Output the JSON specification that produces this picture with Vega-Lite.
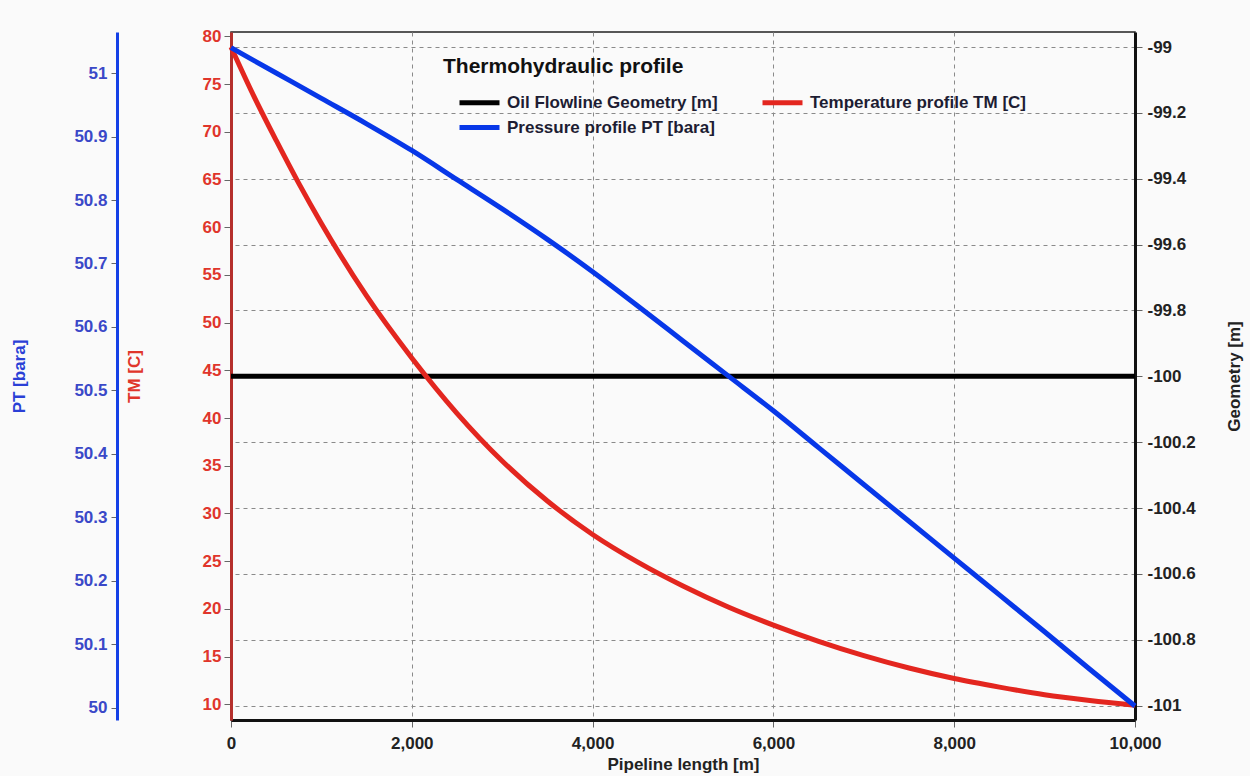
{
  "$schema": "https://vega.github.io/schema/vega-lite/v6.json",
  "autosize": "none",
  "padding": {"left": 231, "top": 32, "right": 115, "bottom": 56},
  "width": 904,
  "height": 688,
  "background": "#fafafa",
  "config": {
    "view": {"stroke": "#222", "strokeWidth": 1.5, "fill": "#fafafa"},
    "font": "Liberation Sans",
    "axis": {
      "labelFont": "Liberation Sans", "labelFontWeight": "bold", "labelFontSize": 17,
      "titleFont": "Liberation Sans", "titleFontWeight": "bold", "titleFontSize": 17,
      "tickColor": "#666", "gridColor": "#8a8a8a", "gridDash": [4, 4], "gridWidth": 1, "gridOpacity": 1,
      "labelFlush": false, "labelOverlap": false
    }
  },
  "datasets": {
    "geom": [
      {"d": 0, "v": -100},
      {"d": 10000, "v": -100}
    ],
    "temp": [
      {"d": 0, "v": 78.9}, {"d": 250, "v": 73.8}, {"d": 500, "v": 69.1}, {"d": 750, "v": 64.6},
      {"d": 1000, "v": 60.4}, {"d": 1500, "v": 52.8}, {"d": 2000, "v": 46.3}, {"d": 2500, "v": 40.5},
      {"d": 3000, "v": 35.5}, {"d": 3500, "v": 31.3}, {"d": 4000, "v": 27.8}, {"d": 4500, "v": 24.9},
      {"d": 5000, "v": 22.4}, {"d": 5500, "v": 20.2}, {"d": 6000, "v": 18.3}, {"d": 6500, "v": 16.6},
      {"d": 7000, "v": 15.1}, {"d": 7500, "v": 13.8}, {"d": 8000, "v": 12.7}, {"d": 8500, "v": 11.8},
      {"d": 9000, "v": 11.0}, {"d": 9500, "v": 10.4}, {"d": 10000, "v": 9.9}
    ],
    "pres": [
      {"d": 0, "v": 51.04}, {"d": 500, "v": 51.0}, {"d": 1000, "v": 50.96}, {"d": 1500, "v": 50.92},
      {"d": 2000, "v": 50.878}, {"d": 2500, "v": 50.832}, {"d": 3000, "v": 50.786}, {"d": 3500, "v": 50.738},
      {"d": 4000, "v": 50.687}, {"d": 4500, "v": 50.633}, {"d": 5000, "v": 50.578}, {"d": 5500, "v": 50.523},
      {"d": 6000, "v": 50.468}, {"d": 6500, "v": 50.41}, {"d": 7000, "v": 50.352}, {"d": 7500, "v": 50.294},
      {"d": 8000, "v": 50.236}, {"d": 8500, "v": 50.178}, {"d": 9000, "v": 50.12}, {"d": 9500, "v": 50.061},
      {"d": 10000, "v": 50.003}
    ]
  },
  "layer": [
    {
      "data": {"name": "geom"},
      "mark": {"type": "line", "strokeWidth": 5},
      "encoding": {
        "x": {
          "field": "d", "type": "quantitative",
          "scale": {"domain": [0, 10000], "nice": false, "zero": false},
          "axis": {
            "orient": "bottom", "title": "Pipeline length [m]", "values": [0, 2000, 4000, 6000, 8000, 10000],
            "format": ",.0f", "grid": true, "domainColor": "#111", "domainWidth": 3, "tickSize": 7,
            "labelPadding": 8, "labelColor": "#222", "titleColor": "#222", "titlePadding": 5
          }
        },
        "y": {
          "field": "v", "type": "quantitative",
          "scale": {"domain": [-101.044, -98.954], "nice": false, "zero": false},
          "axis": {
            "orient": "right", "title": "Geometry [m]",
            "values": [-99, -99.2, -99.4, -99.6, -99.8, -100, -100.2, -100.4, -100.6, -100.8, -101],
            "format": ".1~f", "labelExpr": "replace(datum.label, '\u2212', '-')",
            "grid": true, "domainColor": "#111", "domainWidth": 3, "tickSize": 7,
            "labelPadding": 5, "labelColor": "#222", "titleColor": "#222",
            "titleAngle": 270, "titleX": 108, "titleBaseline": "bottom"
          }
        },
        "color": {
          "datum": "Oil Flowline Geometry [m]",
          "scale": {
            "domain": ["Oil Flowline Geometry [m]", "Temperature profile TM [C]", "Pressure profile PT [bara]"],
            "range": ["#000000", "#e3261f", "#0737e8"]
          },
          "legend": {
            "title": "Thermohydraulic profile", "orient": "none", "legendX": 212, "legendY": 24,
            "direction": "horizontal", "columns": 2, "columnPadding": 28, "rowPadding": 2, "padding": 0,
            "symbolType": "M-2,0H2", "symbolSize": 400, "symbolStrokeWidth": 5, "symbolOffset": 24,
            "labelFont": "Liberation Sans", "labelFontSize": 17, "labelFontWeight": "bold", "labelColor": "#1d1d33",
            "labelOffset": 15, "labelLimit": 400,
            "titleFont": "Liberation Sans", "titleFontSize": 21, "titleFontWeight": "bold", "titleColor": "#111",
            "titlePadding": 13, "titleLimit": 600
          }
        }
      }
    },
    {
      "data": {"name": "temp"},
      "mark": {"type": "line", "strokeWidth": 5, "interpolate": "monotone"},
      "encoding": {
        "x": {"field": "d", "type": "quantitative"},
        "y": {
          "field": "v", "type": "quantitative",
          "scale": {"domain": [8.35, 80.47], "nice": false, "zero": false},
          "axis": {
            "orient": "left", "offset": 0, "title": "TM [C]", "values": [10, 15, 20, 25, 30, 35, 40, 45, 50, 55, 60, 65, 70, 75, 80],
            "grid": false, "domainColor": "#b5302c", "domainWidth": 3, "tickSize": 7, "labelPadding": 3,
            "labelColor": "#e0352b", "titleColor": "#e0352b", "titleX": -88
          }
        },
        "color": {"datum": "Temperature profile TM [C]"}
      }
    },
    {
      "data": {"name": "pres"},
      "mark": {"type": "line", "strokeWidth": 5, "interpolate": "monotone"},
      "encoding": {
        "x": {"field": "d", "type": "quantitative"},
        "y": {
          "field": "v", "type": "quantitative",
          "scale": {"domain": [49.981, 51.0646], "nice": false, "zero": false},
          "axis": {
            "orient": "left", "offset": 114, "title": "PT [bara]",
            "values": [50, 50.1, 50.2, 50.3, 50.4, 50.5, 50.6, 50.7, 50.8, 50.9, 51],
            "format": ".1~f", "grid": false, "domainColor": "#1440e6", "domainWidth": 3, "tickSize": 6, "labelPadding": 4,
            "labelColor": "#3a48c8", "titleColor": "#2a3fd6", "titleX": -89
          }
        },
        "color": {"datum": "Pressure profile PT [bara]"}
      }
    }
  ],
  "resolve": {"scale": {"y": "independent"}}
}
